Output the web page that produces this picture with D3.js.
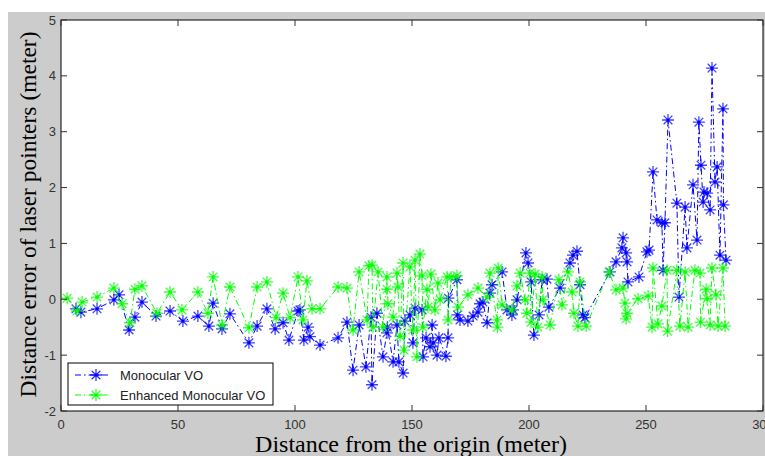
<!DOCTYPE html>
<html>
<head>
<meta charset="utf-8">
<script src="https://cdn.jsdelivr.net/npm/d3@7"></script>
<style>
  body { margin: 0; background: #ffffff; }
  svg { display: block; }
</style>
</head>
<body>
<div id="chart-container"></div>
<script>
// Monocular VO: [distance from origin (m), error (m)]
const monoX = [6.4, 8.5, 15.4, 22.6, 24.8, 29.1, 31.6, 34.6, 40.6, 46.6, 52.1, 58.5, 63.2, 65.0, 68.8, 72.2, 80.3, 83.8, 88.0, 91.5,
  94.9, 97.4, 101.3, 102.1, 103.8, 105.6, 106.4, 110.7, 118.4, 122.2, 124.8, 127.4, 130.3, 132.5, 132.9, 135.0, 137.6, 139.3, 139.5, 141.9,
  143.6, 144.4, 146.2, 147.0, 149.1, 150.4, 151.3, 154.3, 154.7, 156.0, 157.7, 158.6, 159.0, 160.7, 161.5, 164.5, 165.4, 165.6, 169.2, 169.4,
  170.5, 173.9, 176.1, 178.2, 179.1, 180.3, 182.1, 183.3, 184.2, 188.5, 190.6, 192.7, 193.2, 194.9, 198.7, 199.6, 200.9, 202.1, 204.3, 205.6,
  207.7, 208.5, 213.3, 217.5, 218.8, 220.5, 221.8, 223.1, 223.9, 234.6, 237.2, 239.7, 240.2, 241.5, 241.9, 242.3, 247.0, 250.4, 251.3, 253.0,
  254.7, 256.8, 257.3, 258.1, 259.4, 263.2, 264.1, 266.7, 267.5, 270.1, 271.8, 272.6, 273.5, 274.4, 274.8, 276.1, 277.4, 278.2, 279.5, 280.4,
  281.6, 282.9, 283.1, 284.2];
const monoY = [-0.17, -0.23, -0.17, -0.01, 0.08, -0.55, -0.32, -0.05, -0.30, -0.21, -0.39, -0.30, -0.48, -0.07, -0.53, -0.26, -0.78, -0.48, -0.17, -0.53,
  -0.42, -0.73, -0.21, -0.19, -0.73, -0.50, -0.67, -0.82, -0.69, -0.41, -1.27, -0.46, -1.21, -0.32, -1.53, -0.25, -1.03, -0.60, -0.50, -1.12,
  -0.46, -1.12, -1.32, -0.39, -0.28, -0.78, -0.16, -0.19, -1.03, -0.69, -0.85, -0.46, -0.78, -1.00, -0.69, -1.02, -0.69, 0.02, 0.35, -0.28,
  -0.37, -0.39, -0.30, -0.23, -0.08, -0.05, -0.42, 0.11, 0.26, 0.49, -0.19, -0.28, -0.19, -0.01, 0.83, 0.65, 0.31, -0.64, -0.28, 0.35,
  0.36, -0.14, 0.20, 0.65, 0.79, 0.86, 0.26, -0.28, -0.33, 0.49, 0.67, 0.92, 1.10, 0.83, 0.67, 0.31, 0.40, 0.85, 0.88, 2.28,
  1.42, 1.37, 0.52, 1.37, 3.21, 1.72, 0.04, 1.65, 0.92, 2.05, 1.06, 3.17, 2.40, 1.74, 1.92, 1.90, 1.60, 4.14, 2.10, 2.37,
  0.79, 3.41, 1.69, 0.70];

// Enhanced Monocular VO
const enhX = [2.6, 6.8, 9.0, 15.4, 22.6, 26.1, 29.5, 31.6, 34.6, 41.0, 46.6, 51.7, 58.5, 62.8, 65.0, 68.8, 72.2, 80.3, 83.8, 88.0,
  91.9, 94.9, 97.9, 101.3, 103.4, 105.1, 107.3, 110.7, 118.4, 122.2, 124.8, 127.4, 130.8, 131.6, 132.9, 133.3, 135.5, 137.6, 139.3, 139.3,
  139.7, 141.9, 143.6, 144.0, 144.9, 146.2, 146.6, 149.1, 150.4, 151.3, 152.1, 153.4, 154.3, 154.7, 156.4, 156.8, 158.1, 159.8, 161.1, 162.0,
  165.0, 165.4, 166.7, 169.2, 169.7, 173.9, 178.2, 182.1, 183.3, 186.3, 186.5, 186.8, 188.5, 192.7, 194.9, 196.2, 198.3, 199.1, 200.4, 200.9,
  202.6, 203.8, 205.6, 206.0, 209.0, 212.8, 214.1, 216.7, 218.4, 219.2, 220.9, 221.8, 224.4, 234.2, 237.2, 240.2, 241.0, 241.5, 241.9, 246.6,
  250.9, 252.6, 253.0, 255.1, 256.8, 259.0, 259.2, 263.2, 264.5, 266.7, 268.0, 270.9, 273.1, 273.3, 275.7, 276.1, 277.4, 278.2, 279.9, 280.8,
  282.9, 283.8];
const enhY = [0.02, -0.21, -0.05, 0.04, 0.20, -0.08, -0.42, 0.18, 0.24, -0.25, 0.13, -0.19, 0.13, -0.25, 0.40, -0.46, 0.22, -0.51, 0.22, 0.31,
  -0.33, 0.11, -0.33, 0.40, -0.37, 0.33, -0.17, -0.17, 0.22, 0.20, -0.55, 0.49, -0.37, 0.60, 0.61, -0.50, 0.49, -0.50, 0.40, 0.18,
  -0.08, -0.32, 0.47, 0.22, -0.66, 0.65, -0.91, 0.58, -0.55, 0.70, -1.03, 0.81, 0.42, -0.50, 0.18, -0.14, 0.45, -0.19, 0.29, -0.01,
  0.40, -0.37, 0.40, 0.42, -0.14, 0.08, 0.20, 0.04, 0.47, -0.37, -0.50, 0.56, -0.10, -0.19, 0.24, 0.47, -0.01, -0.25, 0.47, -0.41,
  0.45, -0.50, 0.40, -0.01, -0.46, 0.35, -0.10, 0.49, 0.13, -0.25, -0.48, 0.31, -0.48, 0.49, 0.17, 0.20, -0.07, -0.35, -0.25, 0.01,
  0.06, -0.50, 0.56, -0.44, -0.12, 0.52, -0.57, 0.52, -0.48, 0.49, -0.50, 0.52, 0.47, -0.41, 0.18, 0.01, -0.46, 0.56, 0.08, -0.48,
  0.56, -0.48];

const xTicks = [0, 50, 100, 150, 200, 250, 300];
const yTicks = [-2, -1, 0, 1, 2, 3, 4, 5];
const seriesNames = ["Monocular VO", "Enhanced Monocular VO"];

function drawChart() {
  d3.select("#chart-container").selectAll("*").remove();

  const W = 765, H = 456;
  const margin = { top: 20, right: 2, bottom: 45, left: 61 };
  const width = W - margin.left - margin.right;
  const height = H - margin.top - margin.bottom;

  const svg = d3.select("#chart-container")
    .append("svg")
    .attr("width", W)
    .attr("height", H);

  // grey figure background
  svg.append("rect")
    .attr("x", 8).attr("y", 12)
    .attr("width", W - 8).attr("height", H - 12)
    .attr("fill", "#cccccc");

  const g = svg.append("g")
    .attr("transform", `translate(${margin.left},${margin.top})`);

  g.append("rect")
    .attr("width", width).attr("height", height)
    .attr("fill", "#ffffff");

  const x = d3.scaleLinear().domain([0, 300]).range([0, width]);
  const y = d3.scaleLinear().domain([-2, 5]).range([height, 0]);

  const clip = g.append("clipPath").attr("id", "plot-clip");
  clip.append("rect").attr("width", width).attr("height", height);

  const plot = g.append("g").attr("clip-path", "url(#plot-clip)");

  const series = [
    { xs: monoX, ys: monoY, color: "#0000ff" },
    { xs: enhX, ys: enhY, color: "#00ff00" }
  ];

  const line = d3.line().x(d => x(d[0])).y(d => y(d[1]));

  // asterisk marker
  const r = 6;
  const d2 = r * 0.72;
  const star = `M${-r},0L${r},0M0,${-r}L0,${r}M${-d2},${-d2}L${d2},${d2}M${-d2},${d2}L${d2},${-d2}`;

  series.forEach(s => {
    const pts = s.xs.map((v, i) => [v, s.ys[i]]);
    plot.append("path")
      .datum(pts)
      .attr("fill", "none")
      .attr("stroke", s.color)
      .attr("stroke-width", 1)
      .attr("stroke-dasharray", "6,3,1.5,3")
      .attr("d", line);
    plot.selectAll(null)
      .data(pts)
      .join("path")
      .attr("transform", d => `translate(${x(d[0])},${y(d[1])})`)
      .attr("d", star)
      .attr("fill", "none")
      .attr("stroke", s.color)
      .attr("stroke-width", 1.3)
      .attr("stroke-opacity", 0.75);
    plot.selectAll(null)
      .data(pts)
      .join("circle")
      .attr("cx", d => x(d[0]))
      .attr("cy", d => y(d[1]))
      .attr("r", 1.6)
      .attr("fill", s.color);
  });

  // axes box
  g.append("rect")
    .attr("width", width).attr("height", height)
    .attr("fill", "none")
    .attr("stroke", "#000000")
    .attr("stroke-width", 1);

  const tickLen = 6;
  const tickColor = "#333333";

  // x ticks on bottom and top
  xTicks.forEach(t => {
    g.append("line")
      .attr("x1", x(t)).attr("x2", x(t))
      .attr("y1", height).attr("y2", height - tickLen)
      .attr("stroke", tickColor);
    g.append("line")
      .attr("x1", x(t)).attr("x2", x(t))
      .attr("y1", 0).attr("y2", tickLen)
      .attr("stroke", tickColor);
    g.append("text")
      .attr("x", x(t)).attr("y", height + 18)
      .attr("text-anchor", "middle")
      .style("font-family", "Arial, 'Liberation Sans', sans-serif")
      .style("font-size", "13px")
      .attr("fill", "#333333")
      .text(t);
  });

  // y ticks on left and right
  yTicks.forEach(t => {
    g.append("line")
      .attr("x1", 0).attr("x2", tickLen)
      .attr("y1", y(t)).attr("y2", y(t))
      .attr("stroke", tickColor);
    g.append("line")
      .attr("x1", width).attr("x2", width - tickLen)
      .attr("y1", y(t)).attr("y2", y(t))
      .attr("stroke", tickColor);
    g.append("text")
      .attr("x", -5).attr("y", y(t) + 4.5)
      .attr("text-anchor", "end")
      .style("font-family", "Arial, 'Liberation Sans', sans-serif")
      .style("font-size", "13px")
      .attr("fill", "#333333")
      .text(t);
  });

  // axis labels
  svg.append("text")
    .attr("x", margin.left + width / 2 - 1)
    .attr("y", 452)
    .attr("text-anchor", "middle")
    .style("font-family", "'Times New Roman', 'Liberation Serif', serif")
    .style("font-size", "24px")
    .attr("fill", "#000000")
    .text("Distance from the origin (meter)");

  svg.append("text")
    .attr("transform", `translate(36,${margin.top + height / 2 - 1}) rotate(-90)`)
    .attr("text-anchor", "middle")
    .style("font-family", "'Times New Roman', 'Liberation Serif', serif")
    .style("font-size", "23.5px")
    .attr("fill", "#000000")
    .text("Distance error of laser pointers (meter)");

  // legend
  const legend = svg.append("g").attr("transform", "translate(68,363)");
  legend.append("rect")
    .attr("width", 205).attr("height", 42)
    .attr("fill", "#ffffff")
    .attr("stroke", "#000000")
    .attr("stroke-width", 1);

  seriesNames.forEach((name, i) => {
    const cy = 12 + i * 20;
    const color = series[i].color;
    legend.append("line")
      .attr("x1", 7).attr("x2", 42)
      .attr("y1", cy).attr("y2", cy)
      .attr("stroke", color)
      .attr("stroke-dasharray", "6,3,1.5,3");
    legend.append("path")
      .attr("transform", `translate(28,${cy})`)
      .attr("d", star)
      .attr("fill", "none")
      .attr("stroke", color)
      .attr("stroke-width", 1.3)
      .attr("stroke-opacity", 0.8);
    legend.append("circle")
      .attr("cx", 28).attr("cy", cy).attr("r", 1.6)
      .attr("fill", color);
    legend.append("text")
      .attr("x", 52).attr("y", cy + 5)
      .style("font-family", "Arial, 'Liberation Sans', sans-serif")
      .style("font-size", "13px")
      .attr("fill", "#222222")
      .text(name);
  });
}

drawChart();
</script>
</body>
</html>
